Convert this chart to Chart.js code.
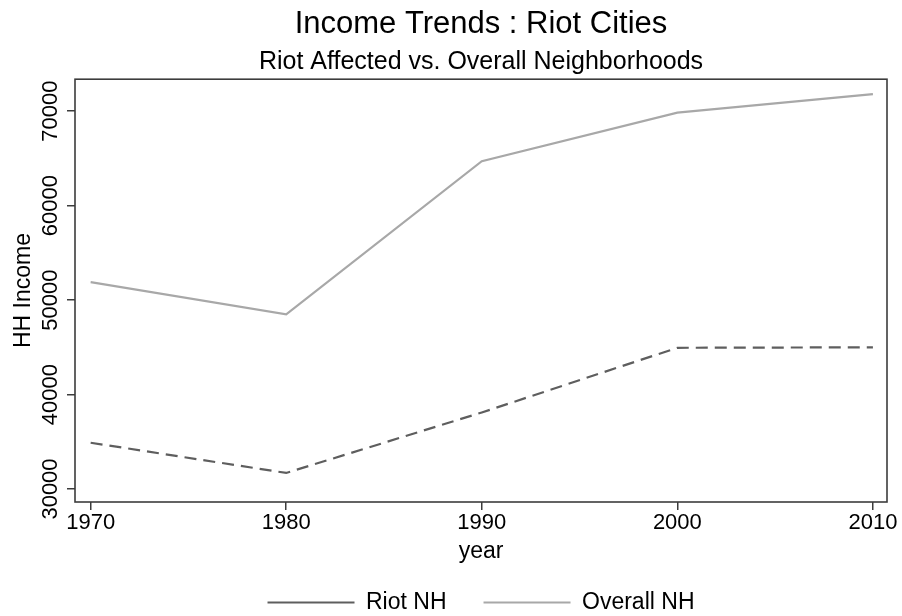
<!DOCTYPE html>
<html>
<head>
<meta charset="utf-8">
<script src="https://cdn.jsdelivr.net/npm/chart.js@4"></script>
<style>
  html, body { margin: 0; padding: 0; background: #fff; }
  #wrap { width: 902px; height: 616px; position: relative; }
</style>
</head>
<body>
<div id="wrap"><canvas id="c"></canvas></div>
<script>
// household income by census year
const years = [1970, 1980, 1990, 2000, 2010];
const riotNH = [34900, 31700, 38100, 44950, 45000];
const overallNH = [51900, 48500, 64700, 69850, 71800];
const yTicks = [30000, 40000, 50000, 60000, 70000];

const FONT = "'Liberation Sans', Arial, Helvetica, sans-serif";
Chart.defaults.font.family = FONT;
Chart.defaults.color = "#000";

// box around the plot region
const frame = {
  id: "frame",
  afterDatasetsDraw(chart) {
    const { ctx, chartArea: a } = chart;
    ctx.save();
    ctx.strokeStyle = "#3c3c3c";
    ctx.lineWidth = 1.6;
    ctx.strokeRect(a.left, a.top, a.right - a.left, a.bottom - a.top);
    ctx.restore();
  }
};

const pts = (ys) => years.map((x, i) => ({ x, y: ys[i] }));

new Chart(document.getElementById("c"), {
  type: "line",
  data: {
    datasets: [
      {
        label: "Riot NH",
        data: pts(riotNH),
        borderColor: "#5e5e5e",
        backgroundColor: "#5e5e5e",
        borderWidth: 2.2,
        borderDash: [12, 7],
        pointRadius: 0,
        tension: 0,
      },
      {
        label: "Overall NH",
        data: pts(overallNH),
        borderColor: "#a8a8a8",
        backgroundColor: "#a8a8a8",
        borderWidth: 2.2,
        pointRadius: 0,
        tension: 0,
      },
    ],
  },
  options: {
    responsive: true, maintainAspectRatio: false, animation: false,
    layout: { padding: { left: 0, right: 15, top: 0, bottom: -8 } },
    plugins: {
      title: {
        display: true, fullSize: false,
        text: "Income Trends : Riot Cities",
        font: { size: 31, weight: "normal" },
        padding: { top: 6, bottom: 0 },
      },
      subtitle: {
        display: true, fullSize: false,
        text: "Riot Affected vs. Overall Neighborhoods",
        color: "#000",
        font: { size: 25, weight: "normal" },
        padding: { top: 4, bottom: 2 },
      },
      legend: {
        position: "bottom", fullSize: false,
        labels: {
          usePointStyle: true, pointStyle: "line", pointStyleWidth: 87,
          padding: 37,
          font: { size: 23 },
        },
      },
      tooltip: { enabled: false },
    },
    scales: {
      x: {
        type: "linear", min: 1969.2, max: 2010.72,
        afterBuildTicks: (s) => { s.ticks = years.map(v => ({ value: v })); },
        afterFit: (s) => { s.height = 52; },
        border: { display: false },
        grid: { drawOnChartArea: false, drawTicks: true, tickLength: 8, color: "#3c3c3c", lineWidth: 1.5 },
        ticks: { font: { size: 22 }, padding: 0, maxRotation: 0, callback: (v) => String(v) },
        title: { display: true, text: "year", font: { size: 23 }, padding: { top: 0, bottom: -11 } },
      },
      y: {
        min: 28624, max: 73386,
        afterBuildTicks: (s) => { s.ticks = yTicks.map(v => ({ value: v })); },
        afterFit: (s) => { s.width = 75; },
        border: { display: false },
        grid: { drawOnChartArea: false, drawTicks: true, tickLength: 8, color: "#3c3c3c", lineWidth: 1.5 },
        ticks: {
          font: { size: 22 }, minRotation: 90, maxRotation: 90,
          crossAlign: "center", padding: -15,
          callback: (v) => String(v),
        },
        title: { display: true, text: "HH Income", font: { size: 23 }, padding: { top: 10, bottom: 0 } },
      },
    },
  },
  plugins: [frame],
});
</script>
</body>
</html>
